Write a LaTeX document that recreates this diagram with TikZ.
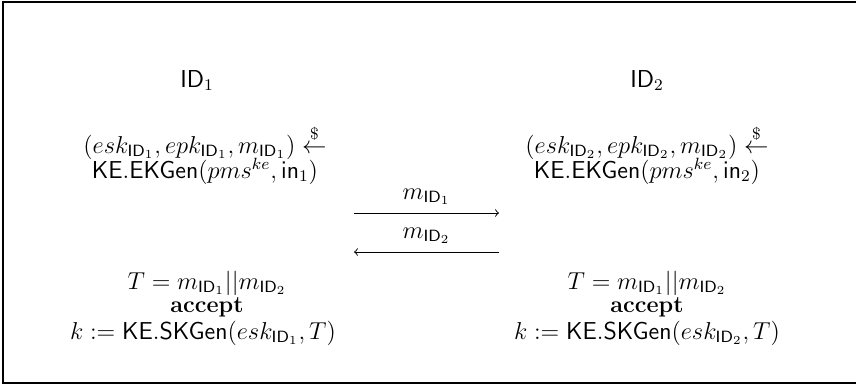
\documentclass[tikz,border=0pt]{standalone}
\usepackage{amsmath}
\begin{document}
\begin{tikzpicture}[x=0.4907pt,y=-0.4907pt,
  txt/.style={inner sep=0pt,anchor=base,font=\fontsize{12}{14.4}\selectfont},
  acc/.style={inner sep=0pt,anchor=base,font=\fontsize{11.5}{14}\selectfont\bfseries},
  msg/.style={line width=0.45pt,->}]
\useasboundingbox (0,0) rectangle (856,385);
\draw[line width=1pt] (860,2) -- (3,2) -- (3,383) -- (860,383);
% left party
\node[txt] (id1) at (197,87) {$\mathsf{ID}_1$};
\node[txt] (l1a) at (205,153) {$(esk_{\mathsf{ID}_1},epk_{\mathsf{ID}_1},m_{\mathsf{ID}_1})\overset{\$}{\leftarrow}$};
\node[txt] (l1b) at (205,178) {$\mathsf{KE.EKGen}(pms^{ke},\mathsf{in}_1)$};
\node[txt] (l1c) at (207,289) {$T=m_{\mathsf{ID}_1}||m_{\mathsf{ID}_2}$};
\node[acc] (l1d) at (207,312) {accept};
\node[txt] (l1e) at (203,339) {$k:=\mathsf{KE.SKGen}(esk_{\mathsf{ID}_1},T)$};
% right party
\node[txt] (id2) at (647,87) {$\mathsf{ID}_2$};
\node[txt] (r1a) at (647,153) {$(esk_{\mathsf{ID}_2},epk_{\mathsf{ID}_2},m_{\mathsf{ID}_2})\overset{\$}{\leftarrow}$};
\node[txt] (r1b) at (647,178) {$\mathsf{KE.EKGen}(pms^{ke},\mathsf{in}_2)$};
\node[txt] (r1c) at (647,289) {$T=m_{\mathsf{ID}_1}||m_{\mathsf{ID}_2}$};
\node[acc] (r1d) at (647,312) {accept};
\node[txt] (r1e) at (647,339) {$k:=\mathsf{KE.SKGen}(esk_{\mathsf{ID}_2},T)$};
% messages
\coordinate (a1s) at (354,213);
\coordinate (a1e) at (499,213);
\coordinate (a2s) at (499,252);
\coordinate (a2e) at (354,252);
\draw[msg] (a1s) -- (a1e);
\draw[msg] (a2s) -- (a2e);
\node[txt] (m1) at (426.5,199) {$m_{\mathsf{ID}_1}$};
\node[txt] (m2) at (426.5,238) {$m_{\mathsf{ID}_2}$};
\end{tikzpicture}
\end{document}
